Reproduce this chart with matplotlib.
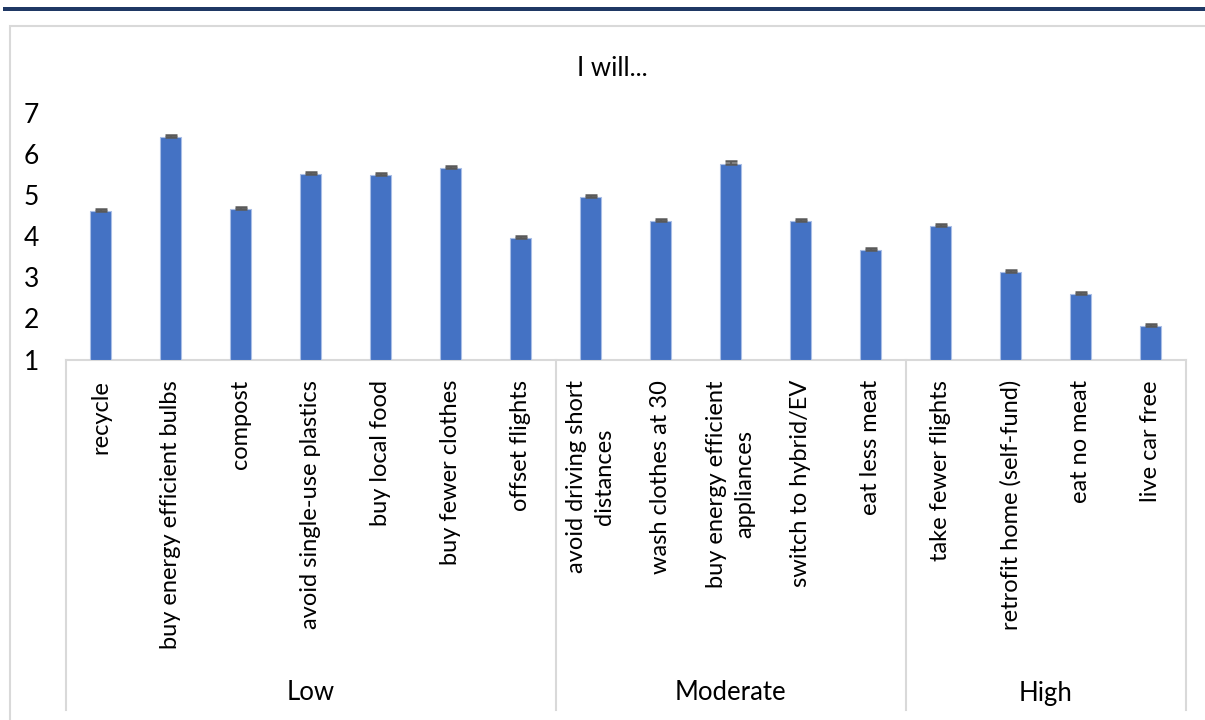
import matplotlib
matplotlib.use("Agg")
import matplotlib.pyplot as plt
from matplotlib.patches import Rectangle
from matplotlib.transforms import blended_transform_factory
import numpy as np

plt.rcParams['font.family'] = ['Lato', 'DejaVu Sans']

title = "I will..."
groups = ["Low", "Moderate", "High"]
group_sizes = [7, 5, 4]
categories = [
    "recycle", "buy energy efficient bulbs", "compost", "avoid single-use plastics",
    "buy local food", "buy fewer clothes", "offset flights",
    "avoid driving short\ndistances", "wash clothes at 30", "buy energy efficient\nappliances",
    "switch to hybrid/EV", "eat less meat",
    "take fewer flights", "retrofit home (self-fund)", "eat no meat", "live car free",
]
values = [4.62, 6.41, 4.66, 5.51, 5.48, 5.67, 3.95,
          4.95, 4.38, 5.77, 4.36, 3.66,
          4.25, 3.13, 2.59, 1.81]
errors = [0.05, 0.055, 0.05, 0.05, 0.05, 0.05, 0.05,
          0.055, 0.05, 0.055, 0.05, 0.05,
          0.05, 0.05, 0.05, 0.045]
yticks = [1, 2, 3, 4, 5, 6, 7]

FS_ROT = 17
FS_H = 18.5
W, H = 1205, 720
fig = plt.figure(figsize=(W / 100, H / 100), dpi=100)

# header bar and chart border
fig.add_artist(Rectangle((3 / W, 1 - 11 / H), 1.0, 4 / H, transform=fig.transFigure,
                         facecolor="#1F3864", edgecolor="none"))
fig.add_artist(Rectangle((10 / W, -0.05), 1.1, 1 - 26 / H + 0.05, transform=fig.transFigure,
                         facecolor="none", edgecolor="#D9D9D9", lw=1.5))

ax_l, ax_r, ax_b, ax_t = 65.5, 1185.5, 359.5, 113.0
ax = fig.add_axes([ax_l / W, 1 - ax_b / H, (ax_r - ax_l) / W, (ax_b - ax_t) / H])
axh = ax_b - ax_t

x = np.arange(len(categories))
ax.bar(x, np.array(values) - 1, bottom=1, width=0.31, color="#4472C4",
       edgecolor="#A9BEE6", linewidth=0.8, zorder=2)
ax.errorbar(x, values, yerr=[np.zeros(len(errors)), errors], fmt="none",
            ecolor="#595959", elinewidth=1.2, capsize=4.3, capthick=1.8, zorder=3)

ax.set_xlim(-0.5, len(categories) - 0.5)
ax.set_ylim(1, 7)
ax.set_yticks(yticks)
ax.set_yticklabels([str(t) for t in yticks], fontsize=19, color="#000000")
ax.tick_params(axis="y", length=0, pad=19)
ax.set_xticks([])
for s in ["top", "right", "left", "bottom"]:
    ax.spines[s].set_visible(False)

trans = blended_transform_factory(ax.transData, ax.transAxes)
gray = "#D9D9D9"
# category axis line
ax.plot([-0.5, len(categories) - 0.5], [0, 0], transform=trans, color=gray, lw=1.5,
        clip_on=False, zorder=1)
bounds = np.concatenate([[0], np.cumsum(group_sizes)]) - 0.5
line_bottom = -(710 - ax_b) / axh
for b in bounds:
    ax.plot([b, b], [0, line_bottom], transform=trans, color=gray, lw=1.5, clip_on=False)

label_top = -(380 - ax_b) / axh
for xi, lab in zip(x, categories):
    ax.text(xi, label_top, lab, transform=trans, rotation=90, ha="center", va="top",
            multialignment="center", linespacing=1.4, fontsize=FS_ROT, color="#000000")

grp_y = -(693 - ax_b) / axh
for i, g in enumerate(groups):
    ax.text((bounds[i] + bounds[i + 1]) / 2, grp_y, g, transform=trans, ha="center",
            va="center", fontsize=FS_H, color="#000000")

fig.text(612 / W, 1 - 68 / H, title, ha="center", va="center", fontsize=FS_H, color="#000000")

fig.savefig("out.png", dpi=100)
